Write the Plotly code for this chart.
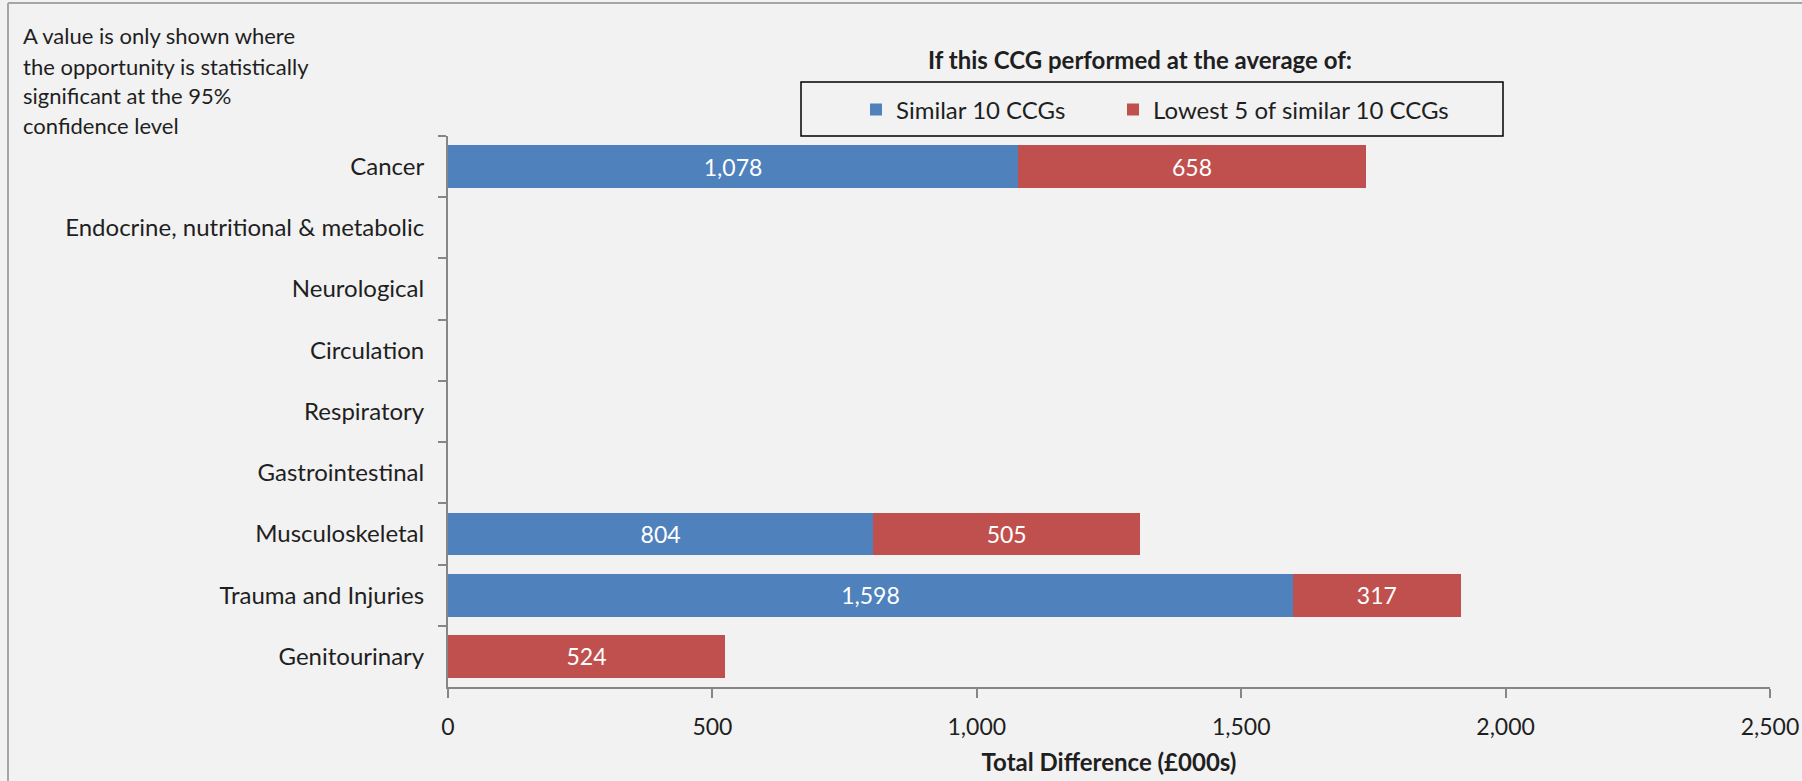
import plotly.graph_objects as go

categories = ["Cancer", "Endocrine, nutritional & metabolic", "Neurological", "Circulation",
              "Respiratory", "Gastrointestinal", "Musculoskeletal", "Trauma and Injuries", "Genitourinary"]
similar_10 = [1078, None, None, None, None, None, 804, 1598, None]
lowest_5 = [658, None, None, None, None, None, 505, 317, 524]
series_names = ["Similar 10 CCGs", "Lowest 5 of similar 10 CCGs"]
x_ticks = [0, 500, 1000, 1500, 2000, 2500]
x_tick_labels = ["0", "500", "1,000", "1,500", "2,000", "2,500"]
note_lines = ["A value is only shown where", "the opportunity is statistically",
              "significant at the 95%", "confidence level"]

FONT = "Lato"
TXT = "#1f1f1f"
W, H = 1802, 781
L, R, T, B = 448, 1770, 136, 687


def px(x):
    return (x - L) / (R - L)


def py(y):
    return (B - y) / (B - T)


fig = go.Figure()
for name, vals, col, leg in [(series_names[0], similar_10, "#4f81bd", "legend"),
                             (series_names[1], lowest_5, "#c0504d", "legend2")]:
    fig.add_trace(go.Bar(
        y=categories, x=vals, name=name, orientation="h", legend=leg,
        marker=dict(color=col, line=dict(width=0)),
        text=[f"{v:,}" if v is not None else "" for v in vals],
        textposition="inside", insidetextanchor="middle", textangle=0,
        textfont=dict(family=FONT, size=23, color="white"),
        constraintext="none",
    ))

annotations = []
note_y = [35.6, 66.7, 95.4, 125.3]
for line, yy in zip(note_lines, note_y):
    annotations.append(dict(text=line, x=px(21), y=py(yy), xref="paper", yref="paper",
                            xanchor="left", yanchor="middle", showarrow=False,
                            font=dict(family=FONT, size=22, color=TXT)))
annotations.append(dict(text="<b>If this CCG performed at the average of:</b>",
                        x=px(1140), y=py(59), xref="paper", yref="paper",
                        xanchor="center", yanchor="middle", showarrow=False,
                        font=dict(family=FONT, size=24, color=TXT)))

shapes = [
    dict(type="rect", xref="paper", yref="paper", x0=px(801), x1=px(1503), y0=py(136), y1=py(82),
         line=dict(color="#000000", width=1.5), fillcolor="rgba(0,0,0,0)"),
    dict(type="line", xref="paper", yref="paper", x0=px(8), x1=px(1802), y0=py(3), y1=py(3),
         line=dict(color="#a6a6a6", width=2)),
    dict(type="line", xref="paper", yref="paper", x0=px(8), x1=px(8), y0=py(3), y1=py(781),
         line=dict(color="#a6a6a6", width=2)),
]

legend_common = dict(orientation="h", yanchor="middle", xanchor="left",
                     bgcolor="rgba(0,0,0,0)", borderwidth=0,
                     font=dict(family=FONT, size=24, color=TXT))

fig.update_layout(
    width=W, height=H,
    margin=dict(l=L, r=W - R, t=T, b=H - B, autoexpand=False),
    paper_bgcolor="#f2f2f2", plot_bgcolor="#f2f2f2",
    barmode="stack", bargap=0.3,
    font=dict(family=FONT, size=24, color=TXT),
    showlegend=True,
    legend=dict(x=px(856), y=py(110), **legend_common),
    legend2=dict(x=px(1113), y=py(110), **legend_common),
    annotations=annotations, shapes=shapes,
    xaxis=dict(range=[0, 2500], tickvals=x_ticks, ticktext=x_tick_labels,
               showgrid=False, zeroline=False, showline=True, linecolor="#868686", linewidth=2,
               ticks="outside", ticklen=9, tickcolor="#868686", tickwidth=2,
               ticklabelstandoff=9,
               tickfont=dict(family=FONT, size=23, color=TXT),
               title=dict(text="<b>Total Difference (£000s)</b>", standoff=16,
                          font=dict(family=FONT, size=24, color=TXT))),
    yaxis=dict(autorange="reversed", showgrid=False, zeroline=False, showline=True,
               linecolor="#868686", linewidth=2, ticks="outside", ticklen=8,
               tickcolor="#868686", tickwidth=2, tickson="boundaries",
               ticklabelstandoff=17,
               tickfont=dict(family=FONT, size=24, color=TXT)),
)

fig.write_html("out.html", config={"displayModeBar": False},
               post_script="document.body.style.margin='0';document.body.style.overflow='hidden';")
